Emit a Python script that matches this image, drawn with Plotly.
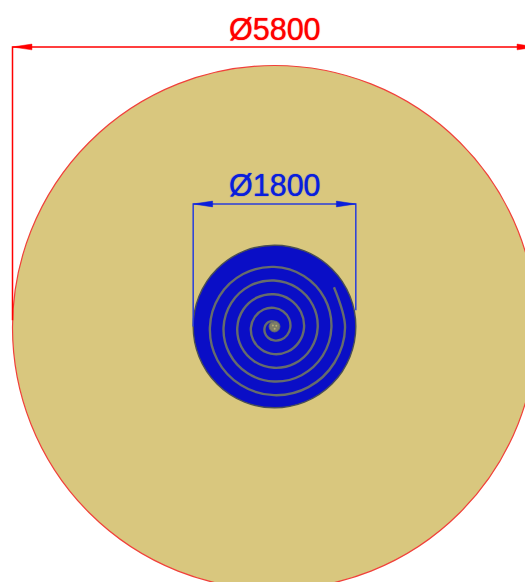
import math
import plotly.graph_objects as go

# Drawing values, in millimetres
outer_diameter = 5800
inner_diameter = 1800
hub_diameter = 120
outer_label = "Ø5800"
inner_label = "Ø1800"

# Dimension line heights and the levels where the extension lines stop
outer_dim_y = 3094
inner_dim_y = 1356
outer_ext_end = 70
inner_ext_left_end = 0
inner_ext_right_end = 180
outer_label_y = 3294
inner_label_y = 1566

# Spiral: angle (degrees) and radius (mm), outer end to centre
spiral_angle = [34, 0, -30, -60, -90, -120, -150, -180, -210, -240, -270, -300, -330, -360,
                -390, -420, -450, -480, -510, -540, -570, -600, -630, -660, -690, -720,
                -750, -780, -810, -840, -870, -900, -930, -960, -990, -1020, -1050, -1080,
                -1110, -1140, -1170, -1200, -1230, -1260, -1290, -1320, -1350, -1380, -1410, -1440,
                -1470, -1500, -1530, -1560, -1590, -1620, -1650, -1680, -1710]
spiral_radius = [800, 786, 773, 761, 748, 735, 723, 710, 698, 685, 672, 660, 647, 635,
                 622, 609, 597, 584, 571, 559, 546, 534, 521, 508, 496, 483,
                 470, 458, 445, 433, 420, 407, 395, 382, 369, 357, 344, 332,
                 319, 306, 294, 281, 268, 256, 243, 231, 218, 205, 193, 180,
                 167, 155, 142, 130, 117, 104, 92, 79, 66]
spiral_center = (-5, -12)
hub_speck_x = [-18, 20, 2]
hub_speck_y = [12, 8, -24]

# Styles
RED = "#FF0000"
BLUE = "#0A1EDC"
EXT_BLUE = "#2A3EDC"
TAN = "#D9C77E"
DISC_BLUE = "#0A0EC6"
SPIRAL = "#666C6C"
RIM = "#4A4F55"
HUB = "#7C7C68"
SPECK = "#B4AC72"

PX = 2900 / 262  # mm per screen pixel
x_range = [-274.5 * PX, 250.5 * PX]
y_range = [-255.5 * PX, 326.5 * PX]
HEAD_LEN = 215
HEAD_HALF = 32


def circle(d, fill, line, width, cy=0):
    return dict(type="circle", xref="x", yref="y", x0=-d / 2, x1=d / 2, y0=cy - d / 2, y1=cy + d / 2,
                fillcolor=fill, line=dict(color=line, width=width), layer="below")


def dimension(d, y, left_end, right_end, color, line_color):
    r = d / 2
    traces = [go.Scatter(x=[-r, -r, r, r], y=[left_end, y, y, right_end], mode="lines",
                         line=dict(color=line_color, width=1.5), hoverinfo="skip")]
    for sign in (-1, 1):
        traces.append(go.Scatter(
            x=[sign * r, sign * (r - HEAD_LEN), sign * (r - HEAD_LEN), sign * r],
            y=[y, y + HEAD_HALF, y - HEAD_HALF, y],
            mode="lines", fill="toself", fillcolor=color,
            line=dict(color=color, width=0.5), hoverinfo="skip"))
    return traces


spiral_x = [spiral_center[0] + r * math.cos(math.radians(a)) for a, r in zip(spiral_angle, spiral_radius)]
spiral_y = [spiral_center[1] + r * math.sin(math.radians(a)) for a, r in zip(spiral_angle, spiral_radius)]

fig = go.Figure()
fig.add_trace(go.Scatter(x=spiral_x, y=spiral_y, mode="lines",
                         line=dict(color=SPIRAL, width=2.4, shape="spline", smoothing=1.0, simplify=False),
                         hoverinfo="skip"))
fig.add_trace(go.Scatter(x=hub_speck_x, y=hub_speck_y, mode="markers",
                         marker=dict(color=SPECK, size=2), hoverinfo="skip"))
for t in dimension(outer_diameter, outer_dim_y, outer_ext_end, outer_ext_end, RED, RED):
    fig.add_trace(t)
for t in dimension(inner_diameter, inner_dim_y, inner_ext_left_end, inner_ext_right_end, BLUE, EXT_BLUE):
    fig.add_trace(t)

fig.add_annotation(x=0, y=outer_label_y, text=outer_label, showarrow=False,
                   font=dict(family="Liberation Sans", size=30.5, color=RED, shadow="0 0 1px #FF0000"))
fig.add_annotation(x=0, y=inner_label_y, text=inner_label, showarrow=False,
                   font=dict(family="Liberation Sans", size=30.5, color=BLUE, shadow="0 0 1px #0A1EDC"))

fig.update_layout(
    width=525, height=582, margin=dict(l=0, r=0, t=0, b=0),
    paper_bgcolor="white", plot_bgcolor="white", showlegend=False,
    xaxis=dict(range=x_range, visible=False, fixedrange=True),
    yaxis=dict(range=y_range, visible=False, fixedrange=True),
    shapes=[circle(outer_diameter, TAN, "#F0403A", 1.2, cy=-11),
            circle(inner_diameter, DISC_BLUE, RIM, 1.4),
            circle(hub_diameter, HUB, SPIRAL, 1)],
)
fig.write_html("out.html", config=dict(displayModeBar=False),
               post_script="document.body.style.margin='0';document.body.style.overflow='hidden';")
